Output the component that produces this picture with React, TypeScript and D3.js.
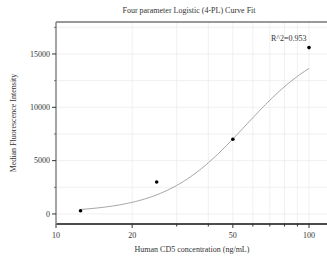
import React, { useEffect, useRef } from "react";
import * as d3 from "d3";

// measured points
const concentrations = [12.5, 25, 50, 100];
const intensities = [300, 3000, 7000, 15600];

// axis ticks
const xTickValues = [10, 20, 30, 40, 50, 60, 70, 80, 90, 100];
const xMajorValues = [10, 20, 50, 100];
const yMajorValues = [0, 5000, 10000, 15000];
const yMinorValues = [2500, 7500, 12500, 17500];

// 4-PL fit parameters (bottom, hill slope, EC50, top)
const fitBottom = 150;
const fitSlope = 2.7;
const fitMid = 56.3;
const fitTop = 16500;

const titleText = "Four parameter Logistic (4-PL) Curve Fit";
const xLabel = "Human CD5 concentration (ng/mL)";
const yLabel = "Median Fluorescence Intensity";
const r2Label = "R^2=0.953";

const W = 327;
const H = 262;
const FONT = "'Liberation Serif', 'Times New Roman', serif";

function fourPL(x: number) {
  return fitBottom + (fitTop - fitBottom) / (1 + Math.pow(fitMid / x, fitSlope));
}

export default function App() {
  const ref = useRef<SVGSVGElement>(null);

  useEffect(() => {
    const svg = d3.select(ref.current);
    svg.selectAll("*").remove();

    const left = 56, right = W, top = 22, bottom = 224;

    const x = d3.scaleLog().domain([10, 100]).range([left, 309]);
    const y = d3.scaleLinear().domain([-940, 18000]).range([bottom, top]);

    // grid
    const grid = svg.append("g");
    grid.selectAll(".vg")
      .data(xTickValues)
      .join("line")
      .attr("x1", d => x(d)).attr("x2", d => x(d))
      .attr("y1", top).attr("y2", bottom)
      .attr("stroke", "#ececec").attr("stroke-width", 0.8);
    grid.selectAll(".hg")
      .data(yMajorValues.concat(yMinorValues))
      .join("line")
      .attr("x1", left).attr("x2", right)
      .attr("y1", d => y(d)).attr("y2", d => y(d))
      .attr("stroke", "#ececec").attr("stroke-width", 0.8);

    // top border
    svg.append("line")
      .attr("x1", left).attr("x2", right).attr("y1", top).attr("y2", top)
      .attr("stroke", "#333").attr("stroke-width", 1.2);

    // x axis
    svg.append("line")
      .attr("x1", left).attr("x2", right).attr("y1", bottom).attr("y2", bottom)
      .attr("stroke", "#111").attr("stroke-width", 1.5);
    svg.selectAll(".xt")
      .data(xTickValues)
      .join("line")
      .attr("x1", d => x(d)).attr("x2", d => x(d))
      .attr("y1", bottom)
      .attr("y2", d => bottom + (xMajorValues.includes(d) ? 4 : 2.5))
      .attr("stroke", "#333").attr("stroke-width", 1);
    svg.selectAll(".xl")
      .data(xMajorValues)
      .join("text")
      .attr("x", d => x(d)).attr("y", 238)
      .attr("text-anchor", "middle")
      .attr("font-family", FONT).attr("font-size", 8).attr("fill", "#333")
      .text(d => String(d));

    // y axis
    svg.append("line")
      .attr("x1", left).attr("x2", left).attr("y1", top).attr("y2", bottom + 0.75)
      .attr("stroke", "#888").attr("stroke-width", 1.5);
    svg.selectAll(".yt")
      .data(yMajorValues)
      .join("line")
      .attr("x1", left - 4).attr("x2", left)
      .attr("y1", d => y(d)).attr("y2", d => y(d))
      .attr("stroke", "#333").attr("stroke-width", 1);
    svg.selectAll(".ym")
      .data(yMinorValues)
      .join("line")
      .attr("x1", left - 2).attr("x2", left)
      .attr("y1", d => y(d)).attr("y2", d => y(d))
      .attr("stroke", "#555").attr("stroke-width", 0.8);
    svg.selectAll(".yl")
      .data(yMajorValues)
      .join("text")
      .attr("x", left - 6).attr("y", d => y(d) + 2.8)
      .attr("text-anchor", "end")
      .attr("font-family", FONT).attr("font-size", 8).attr("fill", "#333")
      .text(d => String(d));

    // fit curve
    const lo = Math.log10(concentrations[0]);
    const hi = Math.log10(concentrations[concentrations.length - 1]);
    const curveX = d3.range(0, 101).map(i => Math.pow(10, lo + (i / 100) * (hi - lo)));
    const line = d3.line<number>().x(d => x(d)).y(d => y(fourPL(d)));
    svg.append("path")
      .attr("d", line(curveX))
      .attr("fill", "none")
      .attr("stroke", "#9a9a9a")
      .attr("stroke-width", 0.9);

    // points
    svg.selectAll(".pt")
      .data(concentrations)
      .join("circle")
      .attr("cx", d => x(d))
      .attr("cy", (d, i) => y(intensities[i]))
      .attr("r", 1.8)
      .attr("fill", "#000");

    // texts
    svg.append("text")
      .attr("x", 189).attr("y", 13)
      .attr("text-anchor", "middle")
      .attr("font-family", FONT).attr("font-size", 8).attr("fill", "#333")
      .text(titleText);
    svg.append("text")
      .attr("x", 192).attr("y", 252)
      .attr("text-anchor", "middle")
      .attr("font-family", FONT).attr("font-size", 8).attr("fill", "#333")
      .text(xLabel);
    svg.append("text")
      .attr("transform", `translate(16, ${(top + bottom) / 2}) rotate(-90)`)
      .attr("text-anchor", "middle")
      .attr("font-family", FONT).attr("font-size", 8).attr("fill", "#333")
      .text(yLabel);
    svg.append("text")
      .attr("x", 271).attr("y", 41)
      .attr("font-family", FONT).attr("font-size", 8).attr("fill", "#333")
      .text(r2Label);
  }, []);

  return (
    <svg
      ref={ref}
      width={W}
      height={H}
      style={{ position: "absolute", left: 0, top: 0, background: "#fff" }}
    />
  );
}
